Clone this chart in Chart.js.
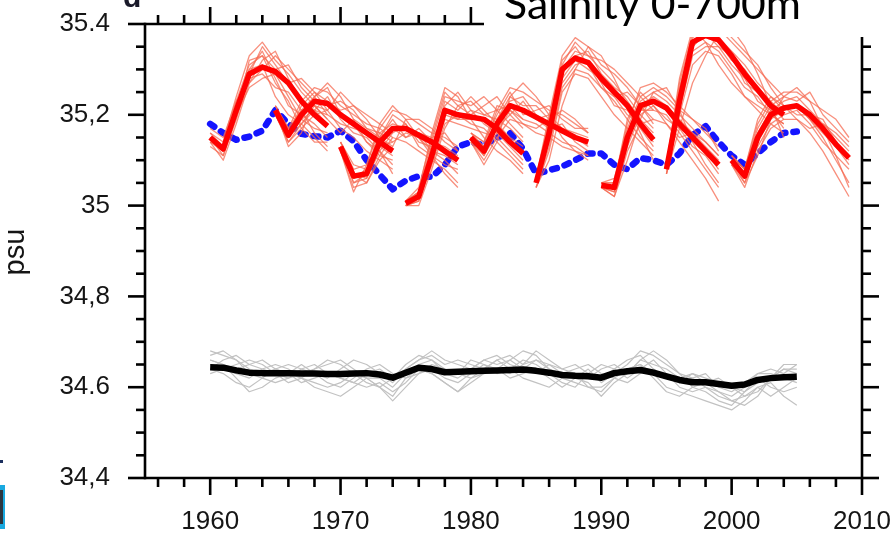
<!DOCTYPE html>
<html><head><meta charset="utf-8">
<script src="https://cdn.jsdelivr.net/npm/chart.js@4.4.1/dist/chart.umd.min.js"></script>
<style>html,body{margin:0;padding:0;background:#fff;}canvas{display:block;}</style>
</head><body>
<canvas id="c" width="896" height="536"></canvas>
<script>
// ---- data ----
const titleText = 'Salinity 0-700m';
const yAxisTitle = 'psu';
const panelLetter = 'd';
const xTickValues = [1960, 1970, 1980, 1990, 2000, 2010];
const yTickValues = [34.4, 34.6, 34.8, 35.0, 35.2, 35.4];
const yTickLabels = ['34,4', '34.6', '34,8', '35', '35,2', '35.4'];
const firstYear = 1960;

// observations (blue dashed)
const obsBlue = [35.18,35.16,35.145,35.152,35.165,35.21,35.18,35.158,35.153,35.15,
  35.165,35.142,35.10,35.068,35.036,35.055,35.065,35.063,35.09,35.13,
  35.14,35.133,35.15,35.16,35.125,35.07,35.078,35.086,35.10,35.115,
  35.115,35.09,35.08,35.105,35.10,35.09,35.115,35.155,35.175,35.14,
  35.11,35.09,35.115,35.14,35.16,35.163];

// uninitialised ensemble mean (black) and members (grey)
const blackMean = [34.644,34.643,34.637,34.632,34.631,34.631,34.631,34.630,34.630,34.629,
  34.629,34.630,34.631,34.628,34.621,34.632,34.643,34.640,34.633,34.634,
  34.635,34.636,34.637,34.638,34.639,34.636,34.632,34.627,34.625,34.624,
  34.621,34.631,34.635,34.638,34.632,34.624,34.616,34.611,34.611,34.607,
  34.603,34.606,34.616,34.620,34.622,34.623];
const grey1 = [34.68,34.67,34.66,34.64,34.63,34.64,34.65,34.64,34.63,34.62,34.64,34.66,34.65,34.63,34.61,34.64,34.66,34.68,34.66,34.65,34.64,34.66,34.67,34.65,34.64,34.66,34.65,34.63,34.62,34.64,34.61,34.63,34.65,34.68,34.67,34.65,34.63,34.62,34.60,34.59,34.58,34.60,34.63,34.64,34.63,34.65];
const grey2 = [34.66,34.65,34.62,34.59,34.60,34.62,34.63,34.62,34.61,34.60,34.61,34.63,34.62,34.60,34.58,34.62,34.64,34.63,34.61,34.59,34.61,34.63,34.64,34.66,34.68,34.67,34.64,34.62,34.61,34.60,34.59,34.62,34.64,34.65,34.63,34.60,34.59,34.58,34.57,34.56,34.55,34.57,34.60,34.61,34.58,34.56];
const grey3 = [34.64,34.66,34.67,34.65,34.64,34.63,34.62,34.64,34.65,34.63,34.62,34.61,34.63,34.64,34.62,34.64,34.66,34.67,34.65,34.66,34.65,34.64,34.66,34.67,34.65,34.68,34.66,34.64,34.65,34.63,34.62,34.64,34.66,34.67,34.64,34.62,34.61,34.63,34.62,34.61,34.60,34.59,34.61,34.62,34.64,34.64];
const grey4 = [34.65,34.64,34.63,34.62,34.64,34.65,34.64,34.62,34.60,34.59,34.58,34.60,34.62,34.62,34.60,34.63,34.65,34.66,34.64,34.63,34.66,34.65,34.63,34.64,34.66,34.65,34.63,34.61,34.60,34.63,34.65,34.64,34.62,34.64,34.66,34.63,34.60,34.59,34.60,34.58,34.57,34.56,34.58,34.62,34.64,34.63];
const grey5 = [34.63,34.64,34.65,34.66,34.65,34.63,34.61,34.62,34.64,34.65,34.66,34.64,34.62,34.60,34.57,34.60,34.63,34.64,34.62,34.61,34.63,34.65,34.64,34.62,34.63,34.64,34.62,34.60,34.62,34.61,34.58,34.61,34.63,34.66,34.68,34.66,34.63,34.60,34.59,34.57,34.56,34.59,34.62,34.60,34.59,34.60];
const grey6 = [34.67,34.68,34.66,34.63,34.62,34.61,34.62,34.63,34.64,34.66,34.65,34.63,34.61,34.60,34.62,34.65,34.67,34.66,34.63,34.62,34.64,34.66,34.65,34.66,34.64,34.63,34.65,34.64,34.63,34.62,34.64,34.65,34.63,34.66,34.65,34.64,34.62,34.63,34.61,34.62,34.60,34.58,34.59,34.62,34.65,34.65];
const grey7 = [34.64,34.63,34.61,34.60,34.62,34.64,34.63,34.61,34.62,34.63,34.62,34.61,34.60,34.61,34.59,34.61,34.64,34.63,34.61,34.59,34.62,34.64,34.66,34.64,34.62,34.61,34.60,34.62,34.63,34.60,34.60,34.62,34.64,34.65,34.62,34.59,34.58,34.60,34.61,34.59,34.57,34.58,34.60,34.58,34.60,34.62];
const grey8 = [34.66,34.65,34.64,34.65,34.66,34.64,34.63,34.65,34.63,34.61,34.60,34.62,34.64,34.65,34.63,34.62,34.63,34.65,34.64,34.63,34.62,34.63,34.64,34.63,34.65,34.66,34.64,34.63,34.64,34.65,34.63,34.62,34.61,34.63,34.64,34.62,34.61,34.62,34.63,34.60,34.59,34.61,34.63,34.63,34.62,34.61];
const greyMembers = [grey1, grey2, grey3, grey4, grey5, grey6, grey7, grey8];

// initialised hindcasts: start years, ensemble means (thick red) and members (thin red)
const hindcastStarts = [1960, 1965, 1970, 1975, 1980, 1985, 1990, 1995, 2000];
const hc1960 = [35.15,35.125,35.21,35.29,35.305,35.295,35.27,35.23,35.20,35.175];
const hc1965 = [35.21,35.155,35.20,35.23,35.225,35.20,35.18,35.16,35.14,35.12];
const hc1970 = [35.13,35.065,35.07,35.14,35.17,35.17,35.155,35.14,35.12,35.10];
const hc1975 = [35.005,35.02,35.11,35.21,35.20,35.195,35.19,35.17,35.14,35.115];
const hc1980 = [35.15,35.12,35.18,35.22,35.21,35.195,35.18,35.165,35.15,35.14];
const hc1985 = [35.05,35.16,35.30,35.325,35.315,35.28,35.25,35.22,35.18,35.145];
const hc1990 = [35.045,35.04,35.15,35.22,35.23,35.215,35.18,35.15,35.12,35.09];
const hc1995 = [35.08,35.23,35.36,35.375,35.365,35.33,35.29,35.255,35.22,35.20];
const hc2000 = [35.10,35.065,35.15,35.20,35.215,35.22,35.20,35.17,35.135,35.105];
const hindcastMeans = [hc1960, hc1965, hc1970, hc1975, hc1980, hc1985, hc1990, hc1995, hc2000];

const hc1960m = [
 [35.16,35.14,35.24,35.33,35.36,35.32,35.29,35.25,35.22,35.19],
 [35.14,35.10,35.18,35.27,35.30,35.33,35.30,35.27,35.24,35.20],
 [35.15,35.12,35.22,35.30,35.34,35.28,35.22,35.20,35.18,35.15],
 [35.13,35.11,35.19,35.28,35.29,35.26,35.25,35.21,35.16,35.13],
 [35.17,35.15,35.23,35.31,35.33,35.30,35.31,35.26,35.23,35.22],
 [35.15,35.13,35.20,35.26,35.28,35.29,35.24,35.19,35.17,35.16],
 [35.14,35.12,35.21,35.29,35.35,35.31,35.27,35.28,35.25,35.21],
 [35.16,35.13,35.22,35.30,35.31,35.24,35.20,35.18,35.15,35.12],
 [35.15,35.11,35.20,35.32,35.33,35.27,35.23,35.17,35.14,35.14],
 [35.14,35.13,35.23,35.27,35.32,35.34,35.28,35.23,35.21,35.18]];
const hc1965m = [
 [35.22,35.17,35.23,35.26,35.25,35.22,35.20,35.18,35.17,35.15],
 [35.20,35.14,35.17,35.20,35.21,35.17,35.15,35.12,35.10,35.08],
 [35.21,35.16,35.21,35.24,35.27,35.24,35.19,35.17,35.15,35.13],
 [35.20,35.15,35.18,35.22,35.19,35.16,35.19,35.14,35.11,35.10],
 [35.22,35.16,35.22,35.25,35.23,35.21,35.22,35.20,35.18,35.16],
 [35.21,35.15,35.19,35.21,35.24,35.19,35.16,35.15,35.12,35.09],
 [35.21,35.16,35.20,35.23,35.22,35.23,35.21,35.17,35.16,35.14],
 [35.20,35.14,35.18,35.21,35.20,35.18,35.17,35.16,35.13,35.11],
 [35.21,35.13,35.16,35.24,35.26,35.20,35.18,35.14,35.12,35.07],
 [35.22,35.17,35.21,35.22,35.21,35.25,35.22,35.19,35.15,35.12]];
const hc1970m = [
 [35.14,35.08,35.09,35.17,35.21,35.20,35.18,35.16,35.15,35.13],
 [35.12,35.04,35.05,35.11,35.15,35.14,35.12,35.10,35.08,35.05],
 [35.13,35.06,35.08,35.15,35.19,35.15,35.17,35.14,35.13,35.11],
 [35.13,35.05,35.06,35.12,35.16,35.18,35.13,35.11,35.09,35.08],
 [35.14,35.09,35.08,35.16,35.18,35.17,35.16,35.15,35.16,35.12],
 [35.12,35.06,35.07,35.13,35.14,35.16,35.15,35.12,35.10,35.07],
 [35.13,35.07,35.06,35.15,35.20,35.18,35.14,35.13,35.12,35.10],
 [35.13,35.05,35.07,35.13,35.17,35.15,35.16,35.12,35.11,35.09],
 [35.12,35.03,35.09,35.18,35.22,35.19,35.15,35.11,35.07,35.04],
 [35.14,35.07,35.05,35.10,35.13,35.19,35.19,35.17,35.14,35.12]];
const hc1975m = [
 [35.01,35.03,35.14,35.24,35.23,35.22,35.24,35.21,35.18,35.15],
 [35.00,35.01,35.10,35.19,35.18,35.17,35.16,35.15,35.12,35.09],
 [35.01,35.02,35.13,35.22,35.25,35.21,35.20,35.19,35.17,35.14],
 [35.00,35.02,35.11,35.20,35.19,35.21,35.18,35.16,35.13,35.10],
 [35.01,35.04,35.15,35.25,35.22,35.20,35.22,35.24,35.20,35.17],
 [35.00,35.01,35.09,35.18,35.20,35.18,35.17,35.14,35.11,35.08],
 [35.01,35.02,35.12,35.23,35.21,35.24,35.21,35.18,35.15,35.13],
 [35.00,35.03,35.11,35.21,35.19,35.19,35.19,35.17,35.14,35.12],
 [35.00,35.00,35.08,35.17,35.22,35.23,35.20,35.21,35.22,35.19],
 [35.01,35.03,35.16,35.26,35.24,35.19,35.15,35.12,35.10,35.07]];
const hc1980m = [
 [35.16,35.13,35.21,35.26,35.25,35.23,35.21,35.20,35.18,35.16],
 [35.14,35.10,35.15,35.19,35.18,35.16,35.15,35.13,35.12,35.11],
 [35.15,35.12,35.19,35.24,35.22,35.22,35.19,35.17,35.16,35.15],
 [35.15,35.11,35.17,35.20,35.23,35.19,35.17,35.18,35.14,35.12],
 [35.16,35.14,35.20,35.25,35.20,35.21,35.22,35.19,35.17,35.17],
 [35.14,35.11,35.16,35.21,35.19,35.18,35.16,35.14,35.13,35.11],
 [35.15,35.13,35.19,35.23,35.24,35.20,35.18,35.16,35.15,35.14],
 [35.15,35.12,35.18,35.22,35.21,35.19,35.20,35.17,35.15,35.13],
 [35.14,35.09,35.14,35.24,35.27,35.24,35.20,35.15,35.12,35.10],
 [35.16,35.14,35.22,35.21,35.18,35.17,35.19,35.21,35.19,35.16]];
const hc1985m = [
 [35.06,35.20,35.33,35.37,35.35,35.31,35.29,35.26,35.22,35.19],
 [35.04,35.12,35.25,35.29,35.28,35.24,35.20,35.17,35.14,35.11],
 [35.05,35.16,35.30,35.34,35.33,35.30,35.27,35.23,35.19,35.16],
 [35.05,35.14,35.27,35.31,35.32,35.27,35.22,35.21,35.17,35.13],
 [35.06,35.18,35.31,35.36,35.33,35.32,35.30,35.27,35.24,35.21],
 [35.04,35.13,35.26,35.30,35.29,35.26,35.23,35.19,35.15,35.12],
 [35.05,35.17,35.29,35.33,35.34,35.29,35.26,35.24,35.20,35.17],
 [35.05,35.15,35.28,35.32,35.30,35.28,35.24,35.20,35.18,35.14],
 [35.04,35.10,35.22,35.30,35.35,35.33,35.28,35.22,35.16,35.10],
 [35.06,35.19,35.32,35.35,35.31,35.26,35.24,35.25,35.22,35.18]];
const hc1990m = [
 [35.05,35.05,35.18,35.26,35.27,35.25,35.22,35.19,35.16,35.13],
 [35.04,35.02,35.12,35.18,35.19,35.18,35.14,35.10,35.06,35.01],
 [35.05,35.04,35.16,35.23,35.25,35.23,35.20,35.17,35.14,35.11],
 [35.04,35.03,35.14,35.21,35.21,35.20,35.16,35.12,35.08,35.04],
 [35.05,35.06,35.17,35.24,35.26,35.24,35.21,35.19,35.17,35.12],
 [35.04,35.03,35.13,35.20,35.22,35.19,35.17,35.13,35.11,35.07],
 [35.05,35.04,35.15,35.22,35.24,35.22,35.19,35.16,35.13,35.10],
 [35.04,35.04,35.15,35.21,35.23,35.21,35.17,35.15,35.12,35.08],
 [35.04,35.02,35.10,35.19,35.25,35.26,35.21,35.14,35.09,35.05],
 [35.05,35.05,35.19,35.25,35.22,35.18,35.15,35.16,35.14,35.11]];
const hc1995m = [
 [35.09,35.27,35.38,35.40,35.39,35.36,35.33,35.30,35.27,35.24],
 [35.07,35.20,35.31,35.34,35.33,35.29,35.24,35.21,35.18,35.16],
 [35.08,35.24,35.35,35.38,35.37,35.34,35.31,35.27,35.24,35.21],
 [35.08,35.22,35.34,35.36,35.34,35.30,35.26,35.24,35.20,35.18],
 [35.09,35.26,35.37,35.39,35.40,35.37,35.34,35.31,35.26,35.22],
 [35.07,35.21,35.33,35.35,35.35,35.31,35.28,35.23,35.21,35.17],
 [35.08,35.25,35.36,35.37,35.36,35.32,35.30,35.26,35.23,35.20],
 [35.08,35.23,35.35,35.38,35.35,35.33,35.27,35.25,35.22,35.19],
 [35.07,35.17,35.27,35.33,35.38,35.39,35.35,35.29,35.22,35.15],
 [35.09,35.28,35.39,35.36,35.31,35.27,35.24,35.22,35.20,35.18]];
const hc2000m = [
 [35.11,35.08,35.18,35.23,35.25,35.25,35.23,35.21,35.19,35.15],
 [35.09,35.04,35.12,35.17,35.19,35.19,35.16,35.12,35.07,35.02],
 [35.10,35.07,35.16,35.21,35.23,35.24,35.21,35.18,35.15,35.12],
 [35.10,35.05,35.14,35.19,35.21,35.22,35.19,35.15,35.10,35.05],
 [35.11,35.08,35.17,35.22,35.24,35.23,35.25,35.20,35.17,35.14],
 [35.09,35.06,35.13,35.18,35.20,35.21,35.18,35.14,35.11,35.08],
 [35.10,35.06,35.15,35.20,35.22,35.20,35.20,35.19,35.14,35.10],
 [35.10,35.07,35.16,35.21,35.21,35.22,35.19,35.16,35.13,35.09],
 [35.09,35.05,35.11,35.19,35.24,35.26,35.23,35.17,35.11,35.04],
 [35.11,35.08,35.19,35.24,35.22,35.19,35.17,35.18,35.16,35.13]];
const hindcastMembers = [hc1960m, hc1965m, hc1970m, hc1975m, hc1980m, hc1985m, hc1990m, hc1995m, hc2000m];

// ---- build datasets ----
function pts(start, vals){ return vals.map((v, i) => ({x: start + i, y: v})); }
const datasets = [];
greyMembers.forEach(m => datasets.push({data: pts(firstYear, m), borderColor: '#c2c2c2', borderWidth: 1.2, order: 5}));
datasets.push({data: pts(firstYear, blackMean), borderColor: '#000000', borderWidth: 6.5, order: 4});
datasets.push({data: pts(firstYear, obsBlue), borderColor: '#1414ff', borderWidth: 6.5, borderDash: [5, 8], borderCapStyle: 'round', order: 3});
hindcastMembers.forEach((set, k) => set.forEach(m => datasets.push({data: pts(hindcastStarts[k], m), borderColor: 'rgba(246,105,82,0.75)', borderWidth: 1.3, order: 2})));
hindcastMeans.forEach((m, k) => datasets.push({data: pts(hindcastStarts[k], m), borderColor: '#ff0000', borderWidth: 5.5, order: 1}));

const TEXT = '#151515';
const frame = {
  id: 'frame',
  afterDatasetsDraw(chart) {
    const {ctx, chartArea: a, scales: {x, y}} = chart;
    const boxLeft = 484, boxBottom = 37;
    ctx.save();
    ctx.fillStyle = '#ffffff';
    ctx.fillRect(boxLeft, 0, 896 - boxLeft, boxBottom);
    ctx.strokeStyle = '#000';
    ctx.lineWidth = 2.6;
    ctx.lineCap = 'butt';
    const seg = (x1, y1, x2, y2) => { ctx.beginPath(); ctx.moveTo(x1, y1); ctx.lineTo(x2, y2); ctx.stroke(); };
    seg(a.left, a.top - 1.3, a.left, a.bottom + 1.3);
    seg(a.left, a.bottom, a.right, a.bottom);
    seg(a.left, a.top, boxLeft, a.top);
    seg(a.right, boxBottom, a.right, a.bottom + 1.3);
    for (let yr = 1956; yr <= 2010; yr += 2) {
      const px = x.getPixelForValue(yr);
      const major = yr % 10 === 0;
      const len = major ? 17 : 9;
      seg(px, a.bottom, px, a.bottom + len);
      if (px < boxLeft) seg(px, a.top, px, a.top - len);
    }
    for (let k = 0; k <= 20; k++) {
      const v = 34.4 + k * 0.05;
      const py = y.getPixelForValue(v);
      const len = (k % 4 === 0) ? 17 : 9;
      seg(a.left - len, py, a.left, py);
      if (py >= boxBottom) seg(a.right, py, a.right + len, py);
    }
    // title
    let size = 46;
    ctx.font = size + 'px Lato';
    const w = ctx.measureText(titleText).width;
    size = size * 297 / w;
    ctx.font = size + 'px Lato';
    ctx.fillStyle = '#000';
    ctx.textBaseline = 'alphabetic';
    ctx.textAlign = 'left';
    ctx.fillText(titleText, 504, 19);
    // y axis title
    ctx.save();
    ctx.translate(24, 252);
    ctx.rotate(-Math.PI / 2);
    ctx.font = '29px "Liberation Sans"';
    ctx.fillStyle = TEXT;
    ctx.textAlign = 'center';
    ctx.fillText(yAxisTitle, 0, 0);
    ctx.restore();
    // panel letter (cropped)
    ctx.font = 'bold 30px "Liberation Sans"';
    ctx.fillStyle = '#1a1a2a';
    ctx.fillText(panelLetter, 123, 7);
    // cropped neighbour artefacts at the left edge
    ctx.fillStyle = '#1c2f5e'; ctx.fillRect(0, 460, 3, 3);
    ctx.fillStyle = '#19a9e0'; ctx.fillRect(0, 485, 5, 44);
    ctx.fillStyle = '#2b3640'; ctx.fillRect(0, 490, 3, 34);
    ctx.restore();
  }
};

new Chart(document.getElementById('c'), {
  type: 'line',
  data: {datasets},
  options: {
    responsive: false, animation: false, devicePixelRatio: 1,
    layout: {padding: {left: 0, right: 34, top: 24, bottom: 0}},
    elements: {point: {radius: 0}, line: {tension: 0, borderJoinStyle: 'round'}},
    plugins: {legend: {display: false}, tooltip: {enabled: false}},
    scales: {
      x: {
        type: 'linear', min: 1955, max: 2010,
        grid: {display: false, drawTicks: false}, border: {display: false},
        afterBuildTicks: s => { s.ticks = xTickValues.map(v => ({value: v})); },
        afterFit: s => { s.height = 58; s.paddingLeft = 0; s.paddingRight = 0; },
        ticks: {font: {family: 'Liberation Sans', size: 26}, color: TEXT, padding: 28, maxRotation: 0, autoSkip: false, callback: v => String(v)}
      },
      y: {
        type: 'linear', min: 34.4, max: 35.4,
        grid: {display: false, drawTicks: false}, border: {display: false},
        afterBuildTicks: s => { s.ticks = yTickValues.map(v => ({value: v})); },
        afterFit: s => { s.width = 145; s.paddingTop = 0; s.paddingBottom = 0; },
        ticks: {font: {family: 'Liberation Sans', size: 26}, color: TEXT, padding: 35, autoSkip: false, callback: (v, i) => yTickLabels[i]}
      }
    }
  },
  plugins: [frame]
});
</script>
</body></html>
